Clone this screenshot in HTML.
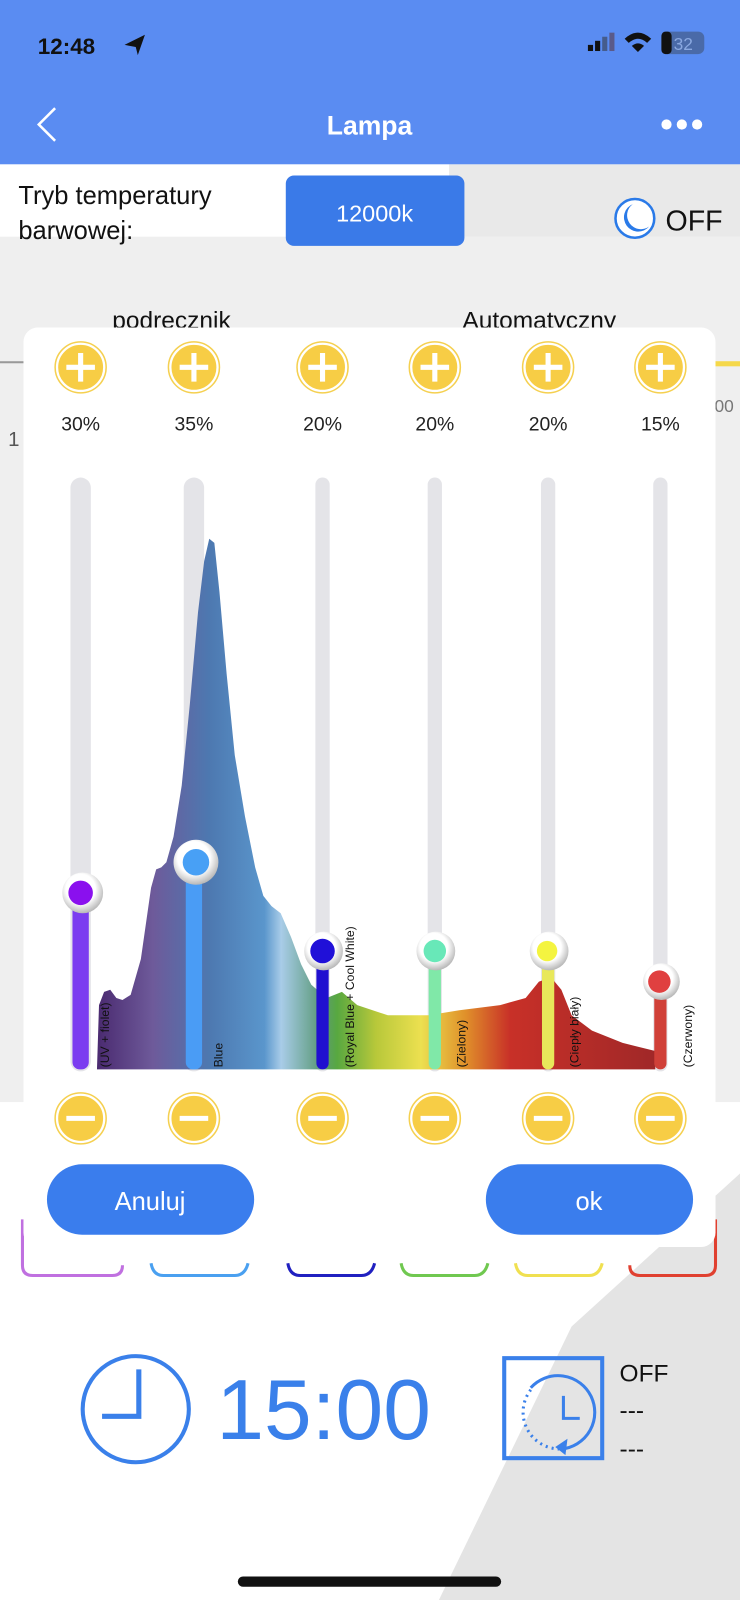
<!DOCTYPE html>
<html><head><meta charset="utf-8"><style>html,body{margin:0;padding:0;width:740px;height:1600px;overflow:hidden;background:#fff}svg{display:block}</style></head>
<body>
<svg width="740" height="1600" viewBox="0 0 725 1568" preserveAspectRatio="none" xmlns="http://www.w3.org/2000/svg" font-family="Liberation Sans, DejaVu Sans, sans-serif">
<defs>
<linearGradient id="spec" x1="95" x2="642" y1="0" y2="0" gradientUnits="userSpaceOnUse">
<stop offset="0" stop-color="#4a2a70"/>
<stop offset="0.1" stop-color="#6e5a9a"/>
<stop offset="0.2" stop-color="#4d78b0"/>
<stop offset="0.3" stop-color="#5a96cc"/>
<stop offset="0.33" stop-color="#a8cce8"/>
<stop offset="0.4" stop-color="#5c9a7a"/>
<stop offset="0.43" stop-color="#58a840"/>
<stop offset="0.5" stop-color="#b8c83a"/>
<stop offset="0.58" stop-color="#ece050"/>
<stop offset="0.66" stop-color="#e0902a"/>
<stop offset="0.74" stop-color="#c83028"/>
<stop offset="1" stop-color="#a02828"/>
</linearGradient>
<radialGradient id="knob" cx="0.45" cy="0.4" r="0.6"><stop offset="0.6" stop-color="#fff"/><stop offset="1" stop-color="#b8b8b8"/></radialGradient>
</defs>
<rect x="0" y="0" width="725" height="1568" fill="#fff"/>
<rect x="0" y="232" width="725" height="850" fill="#efefef"/>
<rect x="0" y="1080" width="725" height="488" fill="#fff"/>
<path d="M430 1568 L560 1300 L725 1150 L725 1568 Z" fill="#e4e4e4"/>
<rect x="440" y="161" width="285" height="71" fill="#e9e9e9"/>
<rect x="0" y="0" width="725" height="161" fill="#5a8cf2"/>
<text x="37" y="53" font-size="22" font-weight="bold" fill="#111">12:48</text>
<path d="M122 44 L142 34 L135 54 L133 46 Z" fill="#111"/>
<rect x="576" y="44" width="5" height="6" fill="#111"/><rect x="583" y="40" width="5" height="10" fill="#111"/><rect x="590" y="36" width="5" height="14" fill="#33333388"/><rect x="597" y="32" width="5" height="18" fill="#5a5a8a"/>
<path d="M612 38 Q625 26 638 38 L634 42 Q625 34 616 42 Z M619 45 Q625 40 631 45 L625 51 Z" fill="#111"/>
<rect x="648" y="31" width="42" height="22" rx="6" fill="#4a6aa8"/><rect x="648" y="31" width="10" height="22" rx="4" fill="#111"/>
<text x="660" y="49" font-size="17" fill="#8aa8e0">32</text>
<path d="M54 106 L38 122 L54 138" stroke="#fff" stroke-width="2.5" fill="none"/>
<text x="362" y="132" font-size="26" font-weight="bold" fill="#fff" text-anchor="middle">Lampa</text>
<circle cx="653" cy="122" r="5" fill="#fff"/><circle cx="668" cy="122" r="5" fill="#fff"/><circle cx="683" cy="122" r="5" fill="#fff"/>
<text x="18" y="200" font-size="25" fill="#111">Tryb temperatury</text>
<text x="18" y="234" font-size="25" fill="#111">barwowej:</text>
<rect x="280" y="172" width="175" height="69" rx="8" fill="#3a7ae8"/>
<text x="367" y="217" font-size="23" fill="#fff" text-anchor="middle">12000k</text>
<circle cx="622" cy="214" r="19" fill="#fff" stroke="#2a7ae8" stroke-width="2.5"/>
<path d="M620 200 A14 14 0 1 0 636 222 A11 11 0 1 1 620 200 Z" fill="#2a7ae8"/>
<text x="652" y="226" font-size="28" fill="#111">OFF</text>
<text x="110" y="322" font-size="24" fill="#111">podrecznik</text>
<text x="453" y="322" font-size="24" fill="#111">Automatyczny</text>
<rect x="0" y="354" width="25" height="2" fill="#999"/>
<rect x="700" y="354" width="25" height="5" fill="#f5d84a"/>
<text x="700" y="404" font-size="17" fill="#777">00</text>
<text x="8" y="437" font-size="20" fill="#555">1</text>
<g fill="none" stroke-width="3">
<path d="M22 1195 V1240 Q22 1250 32 1250 H110 Q120 1250 120 1240" stroke="#c070e0"/>
<path d="M148 1238 Q150 1250 160 1250 H230 Q240 1250 243 1238" stroke="#4aa0f0"/>
<path d="M282 1238 Q284 1250 294 1250 H354 Q364 1250 367 1238" stroke="#2020c0"/>
<path d="M393 1238 Q395 1250 405 1250 H465 Q475 1250 478 1238" stroke="#70c850"/>
<path d="M505 1238 Q507 1250 517 1250 H577 Q587 1250 590 1238" stroke="#f0e050"/>
<path d="M701 1195 V1240 Q701 1250 691 1250 H627 Q617 1250 617 1240" stroke="#e04030"/>
</g>
<rect x="23" y="321" width="678" height="901" rx="14" fill="#fff"/>
<g fill="#f7cd45" stroke="#fff" stroke-width="2">
<circle cx="79" cy="360" r="23"/><circle cx="190" cy="360" r="23"/><circle cx="316" cy="360" r="23"/><circle cx="426" cy="360" r="23"/><circle cx="537" cy="360" r="23"/><circle cx="647" cy="360" r="23"/>
<circle cx="79" cy="1096" r="23"/><circle cx="190" cy="1096" r="23"/><circle cx="316" cy="1096" r="23"/><circle cx="426" cy="1096" r="23"/><circle cx="537" cy="1096" r="23"/><circle cx="647" cy="1096" r="23"/>
</g>
<g fill="none" stroke="#f5d050" stroke-width="1.5">
<circle cx="79" cy="360" r="25"/><circle cx="190" cy="360" r="25"/><circle cx="316" cy="360" r="25"/><circle cx="426" cy="360" r="25"/><circle cx="537" cy="360" r="25"/><circle cx="647" cy="360" r="25"/>
<circle cx="79" cy="1096" r="25"/><circle cx="190" cy="1096" r="25"/><circle cx="316" cy="1096" r="25"/><circle cx="426" cy="1096" r="25"/><circle cx="537" cy="1096" r="25"/><circle cx="647" cy="1096" r="25"/>
</g>
<g stroke="#fff" stroke-width="5">
<path d="M65 360 H93 M79 346 V374 M176 360 H204 M190 346 V374 M302 360 H330 M316 346 V374 M412 360 H440 M426 346 V374 M523 360 H551 M537 346 V374 M633 360 H661 M647 346 V374"/>
<path d="M65 1096 H93 M176 1096 H204 M302 1096 H330 M412 1096 H440 M523 1096 H551 M633 1096 H661"/>
</g>
<g font-size="19" fill="#222" text-anchor="middle">
<text x="79" y="422">30%</text><text x="190" y="422">35%</text><text x="316" y="422">20%</text><text x="426" y="422">20%</text><text x="537" y="422">20%</text><text x="647" y="422">15%</text>
</g>
<g fill="#e4e4e8">
<rect x="69" y="468" width="20" height="582" rx="10"/><rect x="180" y="468" width="20" height="582" rx="10"/><rect x="309" y="468" width="14" height="582" rx="7"/><rect x="419" y="468" width="14" height="582" rx="7"/><rect x="530" y="468" width="14" height="582" rx="7"/><rect x="640" y="468" width="14" height="582" rx="7"/>
</g>
<path d="M95 1048 L97 985 L102 972 L108 970 L114 978 L120 980 L128 975 L138 940 L148 870 L153 852 L158 850 L163 845 L170 820 L178 770 L186 690 L194 600 L200 550 L205 528 L210 532 L215 580 L222 660 L230 740 L240 800 L250 850 L258 878 L266 888 L275 895 L285 918 L295 945 L305 965 L320 978 L335 972 L350 985 L380 995 L420 995 L450 990 L490 985 L515 978 L528 962 L540 958 L550 970 L560 995 L580 1010 L610 1022 L642 1030 L642 1048 Z" fill="url(#spec)"/>
<rect x="71" y="875" width="16" height="173" rx="7" fill="#7b3cf0"/>
<rect x="182" y="845" width="16" height="203" rx="7" fill="#4a9cf5"/>
<rect x="310" y="932" width="12" height="116" rx="6" fill="#2010d0"/>
<rect x="420" y="932" width="12" height="116" rx="6" fill="#80e8a8"/>
<rect x="531" y="932" width="12" height="116" rx="6" fill="#e8e85a"/>
<rect x="641" y="962" width="12" height="86" rx="6" fill="#d04038"/>
<g>
<circle cx="81" cy="875" r="20" fill="url(#knob)"/><circle cx="79" cy="875" r="12" fill="#8a10ee"/>
<circle cx="192" cy="845" r="22" fill="url(#knob)"/><circle cx="192" cy="845" r="13" fill="#48a0f5"/>
<circle cx="317" cy="932" r="19" fill="url(#knob)"/><circle cx="316" cy="932" r="12" fill="#2010d8"/>
<circle cx="427" cy="932" r="19" fill="url(#knob)"/><circle cx="426" cy="932" r="11" fill="#68e8b8"/>
<circle cx="538" cy="932" r="19" fill="url(#knob)"/><circle cx="536" cy="932" r="10" fill="#f4f440"/>
<circle cx="648" cy="962" r="18" fill="url(#knob)"/><circle cx="646" cy="962" r="11" fill="#e04040"/>
</g>
<g font-size="12" fill="#111">
<text transform="translate(107 1046) rotate(-90)">(UV + fiolet)</text>
<text transform="translate(218 1046) rotate(-90)">Blue</text>
<text transform="translate(347 1046) rotate(-90)">(Royal Blue + Cool White)</text>
<text transform="translate(456 1046) rotate(-90)">(Zielony)</text>
<text transform="translate(567 1046) rotate(-90)">(Ciepły biały)</text>
<text transform="translate(678 1046) rotate(-90)">(Czerwony)</text>
</g>
<rect x="46" y="1141" width="203" height="69" rx="34.5" fill="#3a7ded"/>
<text x="147" y="1186" font-size="25" fill="#fff" text-anchor="middle">Anuluj</text>
<rect x="476" y="1141" width="203" height="69" rx="34.5" fill="#3a7ded"/>
<text x="577" y="1186" font-size="25" fill="#fff" text-anchor="middle">ok</text>
<circle cx="133" cy="1381" r="52" fill="none" stroke="#3a80ea" stroke-width="4"/>
<path d="M136 1342 V1388 H100" fill="none" stroke="#3a80ea" stroke-width="5"/>
<text x="212" y="1410" font-size="84" fill="#3a80ea">15:00</text>
<rect x="494" y="1331" width="96" height="98" fill="none" stroke="#3a80ea" stroke-width="4"/>
<path d="M520 1360 A36 36 0 1 1 550 1420" fill="none" stroke="#3a80ea" stroke-width="3"/>
<path d="M520 1362 A36 36 0 0 0 548 1420" fill="none" stroke="#3a80ea" stroke-width="3" stroke-dasharray="2 4"/>
<path d="M544 1418 L556 1410 L554 1426 Z" fill="#3a80ea"/>
<path d="M552 1368 V1390 H568" fill="none" stroke="#3a80ea" stroke-width="3"/>
<text x="607" y="1354" font-size="24" fill="#111">OFF</text>
<text x="607" y="1390" font-size="24" fill="#111">---</text>
<text x="607" y="1428" font-size="24" fill="#111">---</text>
<rect x="233" y="1545" width="258" height="10" rx="5" fill="#111"/>
</svg>
</body></html>
